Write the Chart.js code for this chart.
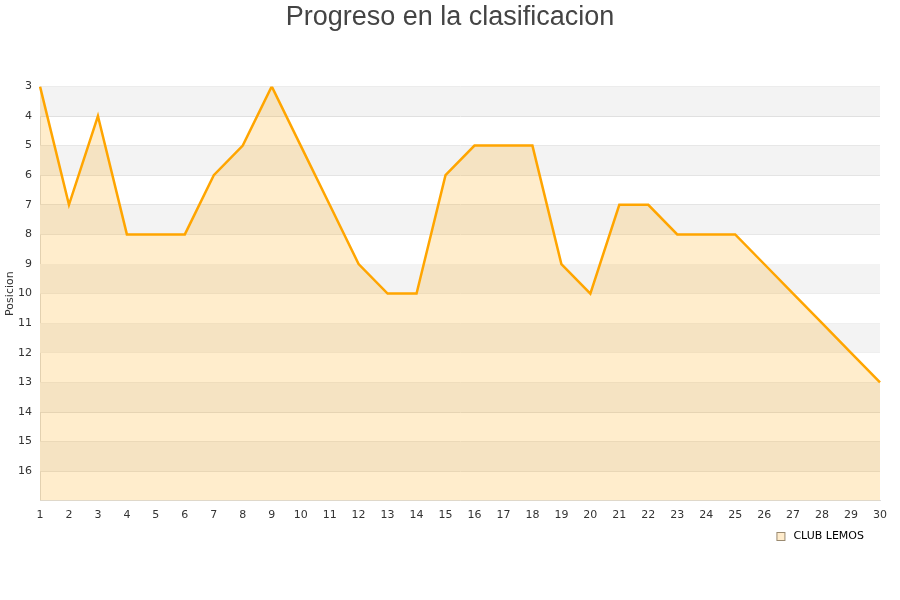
<!DOCTYPE html>
<html>
<head>
<meta charset="utf-8">
<script src="https://cdn.jsdelivr.net/npm/chart.js@4/dist/chart.umd.min.js"></script>
<style>
  body { margin: 0; background: #fff; }
</style>
</head>
<body>
<canvas id="chart" width="900" height="600"></canvas>
<script>
const jornadas = [1, 2, 3, 4, 5, 6, 7, 8, 9, 10, 11, 12, 13, 14, 15, 16, 17, 18, 19, 20, 21, 22, 23, 24, 25, 26, 27, 28, 29, 30];
const posiciones = [3, 7, 4, 8, 8, 8, 6, 5, 3, 5, 7, 9, 10, 10, 6, 5, 5, 5, 9, 10, 7, 7, 8, 8, 8, 9, 10, 11, 12, 13];
const posMin = 3;
const posMax = 17;

// alternating grey / white bands behind the data
const bands = {
  id: 'bands',
  afterLayout(chart) {
    // centre the title on the whole canvas, not on the padded area
    if (chart.titleBlock) {
      chart.titleBlock.left = 0;
      chart.titleBlock.right = chart.width;
      chart.titleBlock.width = chart.width;
    }
  },
  beforeDatasetsDraw(chart) {
    const { ctx, chartArea, scales } = chart;
    const y = scales.y;
    ctx.save();
    for (let v = posMin; v < posMax; v += 2) {
      const top = y.getPixelForValue(v);
      const bot = y.getPixelForValue(v + 1);
      ctx.fillStyle = '#f3f3f3';
      ctx.fillRect(chartArea.left, top, chartArea.right - chartArea.left, bot - top);
    }
    ctx.restore();
  }
};

// legend under the x axis, right side
const legendBox = {
  id: 'legendBox',
  afterDraw(chart) {
    const { ctx, chartArea } = chart;
    const label = chart.data.datasets[0].label;
    ctx.save();
    ctx.font = '11px "DejaVu Sans"';
    ctx.textBaseline = 'middle';
    const w = ctx.measureText(label).width;
    const textX = chartArea.right - 16 - w;
    const cy = 536.5;
    ctx.fillStyle = '#ffeccc';
    ctx.strokeStyle = '#9a8a70';
    ctx.lineWidth = 1;
    ctx.fillRect(textX - 16.5, cy - 4, 8, 8);
    ctx.strokeRect(textX - 16.5, cy - 4, 8, 8);
    ctx.fillStyle = '#000';
    ctx.fillText(label, textX, cy);
    ctx.restore();
  }
};

const config = {
  type: 'line',
  data: {
    labels: jornadas,
    datasets: [
      {
        label: 'CLUB LEMOS',
        data: posiciones,
        borderColor: '#ffa500',
        backgroundColor: 'rgba(255, 165, 0, 0.2)',
        borderWidth: 2.5,
        pointRadius: 0,
        tension: 0,
        fill: { value: posMax },
      },
    ],
  },
  options: {
    responsive: false,
    animation: false,
    layout: { padding: { left: 4, right: 20, top: 0, bottom: 70 } },
    plugins: {
      title: {
        display: true,
        text: 'Progreso en la clasificacion',
        color: '#444',
        font: { family: 'Liberation Sans', size: 27, weight: 'normal' },
        padding: { top: 1, bottom: 53 },
      },
      legend: { display: false },
      tooltip: false,
    },
    scales: {
      x: {
        offset: false,
        grid: { display: false, drawTicks: false },
        border: { display: true, color: '#ddd' },
        ticks: {
          color: '#333',
          font: { family: 'DejaVu Sans', size: 11 },
          maxRotation: 0,
          autoSkip: false,
          padding: 8,
        },
      },
      y: {
        reverse: true,
        min: posMin,
        max: posMax,
        afterFit(scale) { scale.width = 36; },
        title: {
          display: true,
          text: 'Posicion',
          color: '#333',
          font: { family: 'DejaVu Sans', size: 11 },
          padding: 0,
        },
        grid: { color: '#e0e0e0', drawTicks: false },
        border: { display: true, color: '#ddd' },
        ticks: {
          stepSize: 1,
          color: '#333',
          font: { family: 'DejaVu Sans', size: 11 },
          padding: 8,
          callback: (v) => (v === posMax ? '' : v),
        },
      },
    },
  },
  plugins: [bands, legendBox],
};

new Chart(document.getElementById('chart'), config);
</script>
</body>
</html>
